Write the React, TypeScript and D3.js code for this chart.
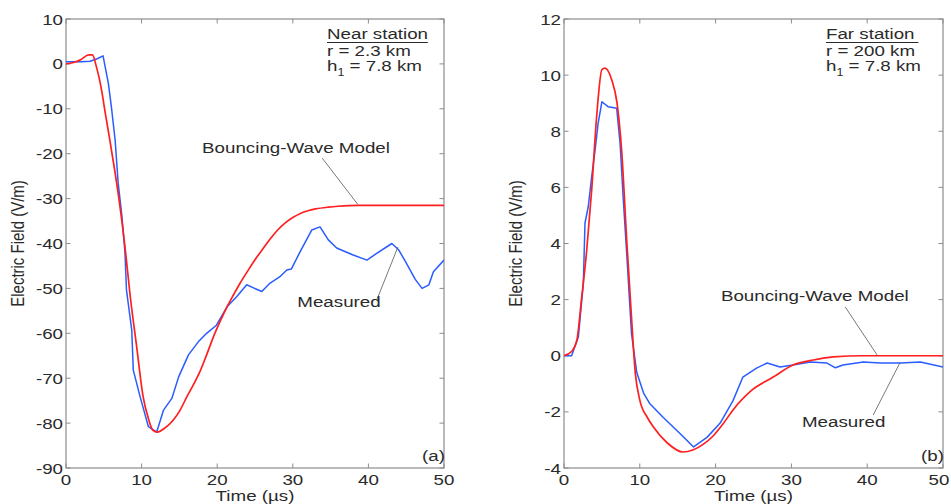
import React from 'react';
import * as d3 from 'd3';

const WIDTH = 951;
const HEIGHT = 504;
const SX = 1.25; // the source picture is a bit wide, text is stretched horizontally
const FONT = '"Liberation Sans", Arial, Helvetica, sans-serif';

// near station (a): [time µs, field V/m]
const nearModel = [
  [0, 0], [1, 0.3], [2, 1.0], [3, 2.0], [3.5, 2.0], [4.0, -0.5], [4.7, -5.8], [5.2, -11],
  [5.8, -17], [6.5, -24.3], [7.0, -30], [7.8, -40.7], [8.5, -51.8], [9.35, -63], [10.2, -74.1],
  [10.9, -79], [11.5, -81.6], [12.1, -82], [13, -81.2], [14.2, -79.3], [15, -77.4], [16, -74.1],
  [17, -71], [17.7, -68.6], [18.6, -64.8], [19.5, -60.8], [20.4, -57.3], [21.3, -54.1],
  [22.2, -51.3], [23, -48.9], [24, -46.2], [25, -43.6], [26, -41.3], [27, -39.0], [28, -37.0],
  [29, -35.4], [30, -34.2], [31, -33.3], [32, -32.7], [33, -32.3], [34.7, -31.9], [36, -31.7],
  [38.6, -31.5], [42, -31.5], [50, -31.5],
];
const nearMeasured = [
  [0, 0.5], [2, 0.5], [3.2, 0.6], [4.2, 1.2], [4.9, 1.8], [5.6, -4.3], [6.0, -9.5], [6.5, -17],
  [6.9, -26.5], [7.4, -34], [7.8, -42], [8.0, -50.4], [8.7, -59.3], [8.9, -68.2], [9.8, -74.1],
  [10.9, -80.8], [12, -82], [12.9, -77.1], [14, -74.5], [14.9, -69.7], [16.2, -64.8],
  [17.5, -61.9], [18.6, -60], [19.9, -58.2], [21.3, -54.1], [22.6, -51.8], [23.9, -49.2],
  [25.9, -50.7], [27, -48.8], [28.3, -47.4], [29.2, -45.9], [29.8, -45.7], [31.1, -41.4],
  [32.5, -37], [33.6, -36.3], [34.7, -39.2], [35.8, -41], [37.9, -42.5], [39.8, -43.7],
  [41.1, -42.2], [43.1, -40], [44, -41.4], [45, -44.3], [46.2, -48], [47.1, -50], [48, -49.2],
  [48.6, -46.3], [50, -43.7],
];

// far station (b)
const farModel = [
  [0, 0], [1, 0.15], [1.7, 0.56], [2.3, 1.99], [3, 3.77], [3.65, 5.9], [4.3, 8.5], [5, 10.2],
  [5.4, 10.25], [6.3, 9.83], [7, 9.0], [7.6, 7.33], [8.3, 4.0], [8.9, 1.39], [9.4, -0.6],
  [10, -1.58], [11, -2.2], [11.8, -2.54], [13.6, -3.1], [15.7, -3.43], [17, -3.36],
  [18.4, -3.15], [19.7, -2.85], [21, -2.42], [22.3, -1.93], [24.9, -1.2], [27.6, -0.76],
  [30.2, -0.33], [32.9, -0.15], [35.5, -0.04], [39.5, 0], [50, 0],
];
const farMeasured = [
  [0, 0], [1, 0], [1.9, 0.68], [2.55, 2.58], [2.77, 4.73], [3.2, 5.31], [3.65, 6.38],
  [4.1, 7.33], [4.5, 8.28], [5, 9.05], [5.85, 8.87], [6.95, 8.82], [7.4, 7.57], [7.8, 5.67],
  [8.3, 3.53], [8.9, 0.8], [9.6, -0.6], [10.5, -1.33], [11.3, -1.7], [13.1, -2.2],
  [15.3, -2.77], [17.1, -3.25], [18.9, -2.9], [20.6, -2.4], [22.3, -1.6], [23.6, -0.76],
  [25.4, -0.44], [26.8, -0.26], [28.5, -0.4], [30.2, -0.33], [32.5, -0.22], [34.7, -0.26],
  [35.8, -0.43], [36.8, -0.33], [39.5, -0.22], [41.7, -0.26], [44.4, -0.26], [47, -0.22],
  [50, -0.4],
];

const xTicks = [0, 10, 20, 30, 40, 50];
const nearYTicks = [-90, -80, -70, -60, -50, -40, -30, -20, -10, 0, 10];
const farYTicks = [-4, -2, 0, 2, 4, 6, 8, 10, 12];

const nearInfo = ['Near station', 'r = 2.3 km', '7.8 km'];
const farInfo = ['Far station', 'r = 200 km', '7.8 km'];

// annotation text anchors and pointer lines, in data units
const nearModelLabel = { x: 18, y: -19.8, text: 'Bouncing-Wave Model' };
const nearModelPointer = [[33.9, -21], [38.6, -31.3]];
const nearMeasLabel = { x: 30.6, y: -54.2, text: 'Measured' };
const nearMeasPointer = [[41.1, -52.6], [43.9, -40.8]];
const farModelLabel = { x: 20.7, y: 1.95, text: 'Bouncing-Wave Model' };
const farModelPointer = [[37.1, 1.74], [41.3, 0.03]];
const farMeasLabel = { x: 31.4, y: -2.55, text: 'Measured' };
const farMeasPointer = [[40.8, -2.11], [44.3, -0.26]];

const AXIS = '#8c8c8c';
const INK = '#2a2a2a';
const RED = '#ff1f1f';
const BLUE = '#2a5cff';

const T = ({ x, y, anchor = 'start', size = 15, children }: any) => (
  <text
    transform={`translate(${x},${y}) scale(${SX},1)`}
    textAnchor={anchor}
    fontSize={size}
    fontFamily={FONT}
    fill={INK}
  >
    {children}
  </text>
);

const Panel = ({ x0, x1, yDomain, yTicks, model, measured, info, tag, modelLabel, modelPointer, measLabel, measPointer }: any) => {
  const top = 19;
  const bottom = 468;
  const x = d3.scaleLinear().domain([0, 50]).range([x0, x1]);
  const y = d3.scaleLinear().domain(yDomain).range([bottom, top]);
  const smooth = d3.line().x((d: any) => x(d[0])).y((d: any) => y(d[1])).curve(d3.curveMonotoneX);
  const raw = d3.line().x((d: any) => x(d[0])).y((d: any) => y(d[1]));
  const tl = 4.5;
  const infoX = x1 - 117;

  return (
    <g>
      <defs>
        <clipPath id={`clip-${tag}`}>
          <rect x={x0} y={top} width={x1 - x0} height={bottom - top} />
        </clipPath>
      </defs>
      <rect x={x0} y={top} width={x1 - x0} height={bottom - top} fill="none" stroke={AXIS} strokeWidth={1.2} />
      {xTicks.map((t) => {
        // keep the last label inside the window
        const lx = Math.min(x(t), WIDTH - 12);
        return (
          <g key={'x' + t}>
            <line x1={x(t)} x2={x(t)} y1={bottom} y2={bottom - tl} stroke={AXIS} />
            <line x1={x(t)} x2={x(t)} y1={top} y2={top + tl} stroke={AXIS} />
            <T x={lx} y={bottom + 17} anchor="middle">{t}</T>
          </g>
        );
      })}
      {yTicks.map((t: number) => (
        <g key={'y' + t}>
          <line x1={x0} x2={x0 + tl} y1={y(t)} y2={y(t)} stroke={AXIS} />
          <line x1={x1} x2={x1 - tl} y1={y(t)} y2={y(t)} stroke={AXIS} />
          <T x={x0 - 3} y={y(t) + 5.5} anchor="end">{t}</T>
        </g>
      ))}
      <g clipPath={`url(#clip-${tag})`}>
        <path d={raw(measured) as string} fill="none" stroke={BLUE} strokeWidth={1.5} strokeLinejoin="round" />
        <path d={smooth(model) as string} fill="none" stroke={RED} strokeWidth={1.7} />
      </g>
      <line x1={x(modelPointer[0][0])} y1={y(modelPointer[0][1])} x2={x(modelPointer[1][0])} y2={y(modelPointer[1][1])} stroke="#555" strokeWidth={0.8} />
      <line x1={x(measPointer[0][0])} y1={y(measPointer[0][1])} x2={x(measPointer[1][0])} y2={y(measPointer[1][1])} stroke="#555" strokeWidth={0.8} />
      <T x={x(modelLabel.x)} y={y(modelLabel.y)}>{modelLabel.text}</T>
      <T x={x(measLabel.x)} y={y(measLabel.y)}>{measLabel.text}</T>
      <T x={infoX} y={39}>{info[0]}</T>
      <line x1={infoX} x2={infoX + info[0].length * 8.4} y1={42.5} y2={42.5} stroke={INK} strokeWidth={1} />
      <T x={infoX} y={56}>{info[1]}</T>
      <text transform={`translate(${infoX},71) scale(${SX},1)`} fontSize={15} fontFamily={FONT} fill={INK}>
        h<tspan fontSize={10} dy={5}>1</tspan>
        <tspan dy={-5}> = {info[2]}</tspan>
      </text>
      <T x={x1 - 22} y={461}>{tag === 'a' ? '(a)' : '(b)'}</T>
      <T x={(x0 + x1) / 2} y={501} anchor="middle">Time (µs)</T>
      <text
        transform={`translate(${x0 - 42.5},${(top + bottom) / 2}) rotate(-90) scale(1,1.2)`}
        textAnchor="middle"
        fontSize={15}
        fontFamily={FONT}
        fill={INK}
      >
        Electric Field (V/m)
      </text>
    </g>
  );
};

export default function App() {
  return (
    <svg
      width={WIDTH}
      height={HEIGHT}
      style={{ position: 'absolute', left: 0, top: 0, background: '#fff' }}
    >
      <rect width={WIDTH} height={HEIGHT} fill="#fff" />
      <Panel
        x0={66} x1={444} yDomain={[-90, 10]} yTicks={nearYTicks}
        model={nearModel} measured={nearMeasured} info={nearInfo} tag="a"
        modelLabel={nearModelLabel} modelPointer={nearModelPointer}
        measLabel={nearMeasLabel} measPointer={nearMeasPointer}
      />
      <Panel
        x0={564} x1={943} yDomain={[-4, 12]} yTicks={farYTicks}
        model={farModel} measured={farMeasured} info={farInfo} tag="b"
        modelLabel={farModelLabel} modelPointer={farModelPointer}
        measLabel={farMeasLabel} measPointer={farMeasPointer}
      />
    </svg>
  );
}
